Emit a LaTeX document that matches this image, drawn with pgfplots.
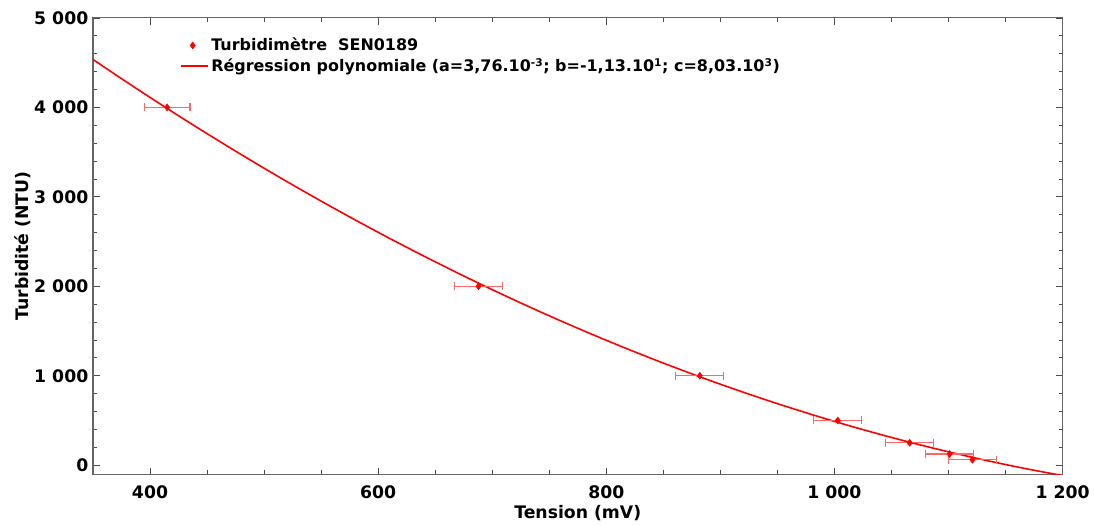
\documentclass[border=0pt]{standalone}
\usepackage{fontspec}
\setmainfont{DejaVu Sans}
\usepackage{pgfplots}
\pgfplotsset{compat=1.18}

\pgfplotstableread{
x     y      ex
415   4000   20
688   2000   21
882   1000   21
1003  500    21
1066  250    21
1101  125    21
1121  60     21
}\mesures

\begin{document}
\begin{tikzpicture}
\begin{axis}[
  width=730pt, height=343.5pt, scale only axis,
  xmin=350, xmax=1200, ymin=-100, ymax=5000,
  xtick={400,600,...,1200}, ytick={0,1000,...,5000},
  minor x tick num=3, minor y tick num=4,
  tick align=inside, major tick length=5pt, minor tick length=3pt,
  axis line style={gray!80!black, line width=0.8pt},
  every tick/.style={black!70, line width=0.6pt},
  /pgf/number format/assume math mode=true,
  /pgf/number format/1000 sep={\ },
  tick label style={font=\fontsize{13}{15}\selectfont\bfseries},
  xticklabel style={yshift=-5pt},
  label style={font=\fontsize{13}{15}\selectfont\bfseries},
  xlabel={Tension (mV)}, ylabel={Turbidité (NTU)},
  xlabel style={yshift=1.5pt}, ylabel style={yshift=-4pt},
  legend cell align=left,
  legend style={at={(0.086,0.968)}, anchor=north west, draw=none, fill=none,
    font=\fontsize{12}{14}\selectfont\bfseries, row sep=0pt},
]
\addlegendimage{only marks, mark=diamond*, mark size=2.6pt, red}
\addlegendentry{Turbidimètre\ \ SEN0189}
\addplot[red, line width=1.2pt, smooth,
  legend image code/.code={\draw[red, line width=1.2pt] (0cm,0cm) -- (0.7cm,0cm);}] coordinates {
  (350,4535.6) (375,4321.3) (400,4111.6) (425,3906.7) (450,3706.4)
  (475,3510.9) (500,3320.0) (525,3133.9) (550,2952.4) (575,2775.7)
  (600,2603.6) (625,2436.3) (650,2273.6) (675,2115.7) (700,1962.4)
  (725,1813.9) (750,1670.0) (775,1530.9) (800,1396.4) (825,1266.7)
  (850,1141.6) (875,1021.3) (900,905.6) (925,794.7) (950,688.4)
  (975,586.9) (1000,490.0) (1025,397.9) (1050,310.4) (1075,227.7)
  (1100,149.6) (1125,76.3) (1150,7.6) (1175,-56.4) (1200,-115.6)
};
\addlegendentry{Régression polynomiale (a=3,76.10\textsuperscript{-3}; b=-1,13.10\textsuperscript{1}; c=8,03.10\textsuperscript{3})}
\addplot[only marks, mark=diamond*, mark size=2.6pt, red, forget plot,
  error bars/.cd, x dir=both, x explicit,
  error bar style={color=red!60, line width=0.9pt},
  error mark options={rotate=90, color=red!60, mark size=3pt, line width=0.9pt}]
  table[x=x, y=y, x error=ex] {\mesures};
\end{axis}
\draw[draw=none] (current axis.north west) ++(-70pt,13.5pt) rectangle ++(1pt,-1pt);
\draw[draw=none] (current axis.south east) ++(21pt,-34.5pt) rectangle ++(-1pt,1pt);
\end{tikzpicture}
\end{document}
